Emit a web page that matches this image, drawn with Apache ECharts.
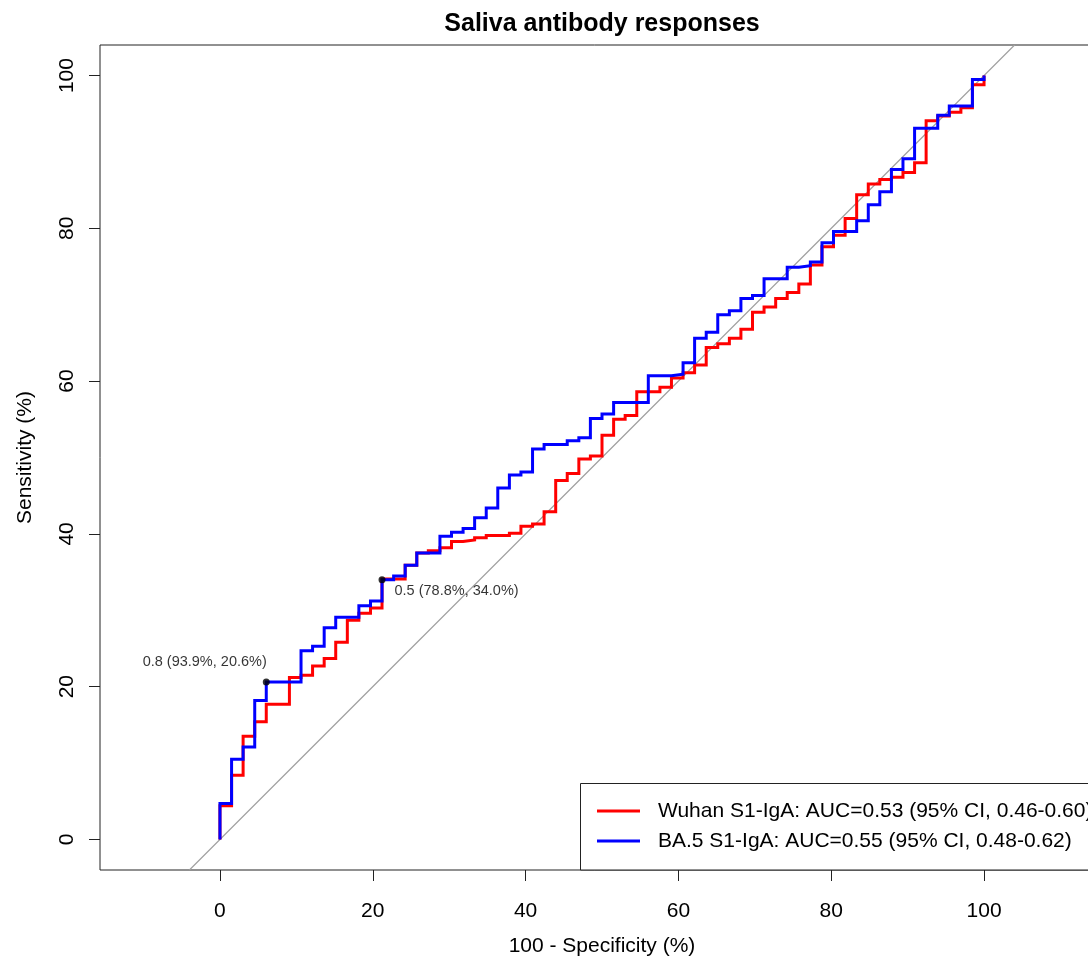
<!DOCTYPE html>
<html>
<head>
<meta charset="utf-8">
<script src="https://cdn.jsdelivr.net/npm/echarts@6/dist/echarts.min.js"></script>
<style>
html,body{margin:0;padding:0;background:#fff;}
#chart{width:1088px;height:962px;}
</style>
</head>
<body>
<div id="chart"></div>
<script>
// ---- Data (100 - Specificity %, Sensitivity %) ----
// Each x is where the curve rises; y is the sensitivity after that rise.
const wuhanX = [0,1.52,3.03,4.55,6.06,9.09,10.61,12.12,13.64,15.15,16.67,18.18,19.70,21.21,24.24,25.76,27.27,28.79,30.30,31.82,33.33,34.85,37.88,39.39,40.91,42.42,43.94,45.45,46.97,48.48,50.00,51.52,53.03,54.55,57.58,59.09,60.61,62.12,63.64,65.15,66.67,68.18,69.70,71.21,72.73,74.24,75.76,77.27,78.79,80.30,81.82,83.33,84.85,86.36,87.88,89.39,90.91,92.42,93.94,95.45,96.97,98.48,100];
const wuhanY = [4.4,8.4,13.5,15.4,17.7,21.2,21.5,22.7,23.7,25.8,28.7,29.6,30.3,34.1,35.9,37.5,37.8,38.2,39.0,39.2,39.5,39.8,40.1,41.0,41.3,42.9,47.0,47.9,49.8,50.2,52.9,55.0,55.5,58.6,59.2,60.4,61.1,62.1,64.4,64.9,65.6,66.8,69.0,69.7,70.8,71.6,72.7,75.2,77.6,79.1,81.3,84.4,85.8,86.4,86.7,87.3,88.6,94.1,94.7,95.2,95.8,98.8,100];
const ba5X = [0,1.52,3.03,4.55,6.06,10.61,12.12,13.64,15.15,18.18,19.70,21.21,22.73,24.24,25.76,28.79,30.30,31.82,33.33,34.85,36.36,37.88,39.39,40.91,42.42,45.45,46.97,48.48,50.00,51.52,56.06,59.09,60.61,62.12,63.64,65.15,66.67,68.18,69.70,71.21,74.24,75.76,77.27,78.79,80.30,83.33,84.85,86.36,87.88,89.39,90.91,93.94,95.45,98.48,100];
const ba5Y = [4.7,10.5,12.1,18.2,20.6,24.7,25.3,27.7,29.1,30.6,31.2,34.0,34.5,35.9,37.5,39.7,40.2,40.7,42.1,43.4,46.0,47.7,48.1,51.1,51.7,52.2,52.6,55.1,55.7,57.2,60.7,60.9,62.4,65.6,66.4,68.7,69.2,70.8,71.2,73.4,74.9,75.1,75.6,78.1,79.6,81.0,83.1,84.8,87.7,89.1,93.1,94.8,96.0,99.5,100];
const seriesNames = ['Wuhan S1-IgA: AUC=0.53 (95% CI, 0.46-0.60)', 'BA.5 S1-IgA: AUC=0.55 (95% CI, 0.48-0.62)'];
const thrX = [6.06, 21.21];
const thrY = [20.6, 34.0];
const thrLabels = ['0.8 (93.9%, 20.6%)', '0.5 (78.8%, 34.0%)'];
const tickValues = [0, 20, 40, 60, 80, 100];
const diagX = [-4, 104];
const diagY = [-4, 104];

function stepPoints(xs, ys) {
  const pts = [[0, 0]];
  let prev = 0;
  for (let i = 0; i < xs.length; i++) {
    pts.push([xs[i], prev]);
    pts.push([xs[i], ys[i]]);
    prev = ys[i];
  }
  return pts;
}

const FONT = '"Liberation Sans", Arial, Helvetica, sans-serif';
const chart = echarts.init(document.getElementById('chart'), null, {renderer: 'canvas'});

const option = {
  animation: false,
  backgroundColor: '#ffffff',
  title: {
    text: 'Saliva antibody responses',
    left: 597,
    top: 7,
    textAlign: 'center',
    textStyle: {fontFamily: FONT, fontSize: 25, fontWeight: 'bold', color: '#000'}
  },
  grid: {
    left: 100, top: 45, width: 1004, height: 825,
    outerBoundsMode: 'none',
    containLabel: false,
    show: true, borderColor: '#222', borderWidth: 1, backgroundColor: 'transparent'
  },
  legend: {
    orient: 'vertical',
    left: 597,
    top: 799,
    padding: 0,
    itemGap: 6,
    itemWidth: 43,
    itemHeight: 3,
    icon: 'rect',
    selectedMode: false,
    textStyle: {fontFamily: FONT, fontSize: 21, color: '#000', lineHeight: 24, padding: [0, 0, 0, 13]},
    data: seriesNames
  },
  graphic: [{
    type: 'rect',
    z: 3,
    shape: {x: 580.5, y: 783.5, width: 560, height: 86.5},
    style: {fill: '#fff', stroke: '#222', lineWidth: 1}
  }],
  xAxis: {
    type: 'value',
    min: -15.7,
    max: 115.7,
    name: '100 - Specificity (%)',
    nameLocation: 'middle',
    nameGap: 66,
    nameTextStyle: {fontFamily: FONT, fontSize: 21, color: '#000'},
    axisLine: {show: false, onZero: false},
    axisTick: {show: true, inside: false, length: 11, customValues: tickValues, lineStyle: {color: '#222', width: 1}},
    axisLabel: {show: true, margin: 31, customValues: tickValues, fontFamily: FONT, fontSize: 21, color: '#000'},
    splitLine: {show: false}
  },
  yAxis: {
    type: 'value',
    min: -4,
    max: 104,
    name: 'Sensitivity (%)',
    nameLocation: 'middle',
    nameGap: 64,
    nameRotate: 90,
    nameTextStyle: {fontFamily: FONT, fontSize: 21, color: '#000'},
    axisLine: {show: false, onZero: false},
    axisTick: {show: true, inside: false, length: 11, customValues: tickValues, lineStyle: {color: '#222', width: 1}},
    axisLabel: {show: true, margin: 22, rotate: 90, customValues: tickValues, fontFamily: FONT, fontSize: 21, color: '#000'},
    splitLine: {show: false}
  },
  series: [
    {
      type: 'line',
      name: 'diagonal',
      data: diagX.map((x, i) => [x, diagY[i]]),
      symbol: 'none',
      lineStyle: {color: '#a0a0a0', width: 1.2},
      silent: true,
      z: 1
    },
    {
      type: 'line',
      name: seriesNames[0],
      data: stepPoints(wuhanX, wuhanY),
      symbol: 'none',
      color: '#ff0000',
      lineStyle: {color: '#ff0000', width: 3, join: 'miter'},
      z: 2
    },
    {
      type: 'line',
      name: seriesNames[1],
      data: stepPoints(ba5X, ba5Y),
      symbol: 'none',
      color: '#0000ff',
      lineStyle: {color: '#0000ff', width: 3, join: 'miter'},
      z: 3
    },
    {
      type: 'scatter',
      name: 'thresholds',
      symbol: 'circle',
      symbolSize: 7,
      itemStyle: {color: '#000'},
      z: 5,
      data: thrX.map((x, i) => ({
        value: [x, thrY[i]],
        label: i === 0
          ? {show: true, formatter: thrLabels[i], position: [4, -17], align: 'right', verticalAlign: 'middle'}
          : {show: true, formatter: thrLabels[i], position: [16, 15], align: 'left', verticalAlign: 'middle'}
      })),
      label: {fontFamily: FONT, fontSize: 14.5, color: '#000'}
    }
  ]
};
chart.setOption(option);
</script>
</body>
</html>
